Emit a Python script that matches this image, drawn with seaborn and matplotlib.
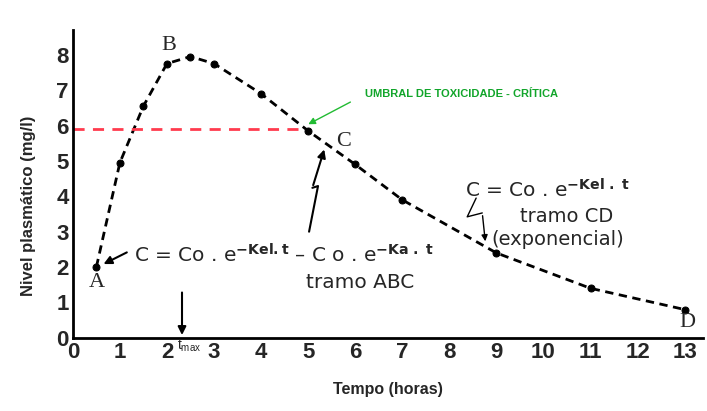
import seaborn as sns
import matplotlib.pyplot as plt

# curva de nivel plasmatico
tempo = [0.5, 1.0, 1.5, 2.0, 2.5, 3.0, 4.0, 5.0, 6.0, 7.0, 9.0, 11.0, 13.0]
nivel = [2.0, 4.95, 6.55, 7.75, 7.95, 7.75, 6.9, 5.85, 4.9, 3.9, 2.4, 1.4, 0.8]
x_ticks = list(range(0, 14))
y_ticks = list(range(0, 9))
umbral = 5.9

sns.set_style("white")
plt.rcParams['font.family'] = ['Liberation Sans', 'DejaVu Sans']
plt.rcParams['mathtext.fontset'] = 'dejavusans'

fig = plt.figure(figsize=(7.07, 4.11), dpi=100)
ax = fig.add_axes([0.103, 0.178, 0.892, 0.749])

sns.lineplot(x=tempo, y=nivel, ax=ax, color='black', linestyle=(0, (3, 2)),
             linewidth=2, marker='o', markersize=5, markeredgecolor='black')

# umbral de toxicidade
ax.plot([0, 4.95], [umbral, umbral], color='#ff3b4e', linestyle=(0, (4, 3)), linewidth=2)
ax.annotate('', xy=(4.95, 6.0), xytext=(5.95, 6.7),
            arrowprops=dict(arrowstyle='-|>', color='#22bb33', lw=1, mutation_scale=10))
ax.text(6.2, 6.9, 'UMBRAL DE TOXICIDADE - CRÍTICA', color='#11a52a',
        fontsize=8, fontweight='bold', va='center')

serif = ['Liberation Serif', 'DejaVu Serif']
ax.text(0.52, 1.55, 'A', family=serif, fontsize=16, ha='center', va='center')
ax.text(2.05, 8.25, 'B', family=serif, fontsize=16, ha='center', va='center')
ax.text(5.75, 5.55, 'C', family=serif, fontsize=16, ha='center', va='center')
ax.text(13.05, 0.42, 'D', family=serif, fontsize=16, ha='center', va='center')

sans = ['DejaVu Sans']
# formulas
ax.annotate('', xy=(0.6, 2.05), xytext=(1.2, 2.45),
            arrowprops=dict(arrowstyle='-|>', color='black', lw=1.5, mutation_scale=12))
ax.text(1.3, 2.35, r'C = Co . e$^{\mathbf{-Kel.t}}$ – C o . e$^{\mathbf{-Ka\ .\ t}}$',
        family=sans, fontsize=14.5, va='center')
ax.text(6.1, 1.55, 'tramo ABC', family=sans, fontsize=14.5, ha='center', va='center')

ax.text(8.34, 4.18, r'C = Co . e$^{\mathbf{-Kel\ .\ t}}$', family=sans, fontsize=14.5, va='center')
ax.text(10.5, 3.42, 'tramo CD', family=sans, fontsize=14, ha='center', va='center')
ax.text(10.3, 2.77, '(exponencial)', family=sans, fontsize=14, ha='center', va='center')

# setas em zigue-zague
ax.plot([5.02, 5.21, 5.09], [3.0, 4.29, 4.24], color='black', lw=1.5)
ax.annotate('', xy=(5.36, 5.4), xytext=(5.09, 4.24),
            arrowprops=dict(arrowstyle='-|>', color='black', lw=1.5, mutation_scale=12))
ax.plot([8.57, 8.38, 8.70], [3.95, 3.42, 3.53], color='black', lw=1)
ax.annotate('', xy=(8.77, 2.65), xytext=(8.70, 3.53),
            arrowprops=dict(arrowstyle='-|>', color='black', lw=1, mutation_scale=9))

# tmax
ax.annotate('', xy=(2.32, 0.0), xytext=(2.32, 1.36),
            arrowprops=dict(arrowstyle='-|>', color='black', lw=1.5, mutation_scale=12))
ax.text(2.22, -0.22, r'$\mathregular{t_{max}}$', fontsize=10, ha='left', va='center')

ax.set_xlim(0, 13.4)
ax.set_ylim(0, 8.7)
ax.set_xticks(x_ticks)
ax.set_yticks(y_ticks)
ax.tick_params(direction='in', length=5, width=1.5, labelsize=16, pad=3)
for lab in ax.get_xticklabels() + ax.get_yticklabels():
    lab.set_fontweight('bold')
for s in ['top', 'right']:
    ax.spines[s].set_visible(False)
for s in ['left', 'bottom']:
    ax.spines[s].set_linewidth(2)
    ax.spines[s].set_color('black')

ax.set_xlabel('Tempo (horas)', fontsize=11.5, fontweight='bold', labelpad=14)
ax.set_ylabel('Nivel plasmático (mg/l)', fontsize=12, fontweight='bold')
ax.yaxis.set_label_coords(-0.058, 0.43)

fig.savefig('out.png', dpi=100)
